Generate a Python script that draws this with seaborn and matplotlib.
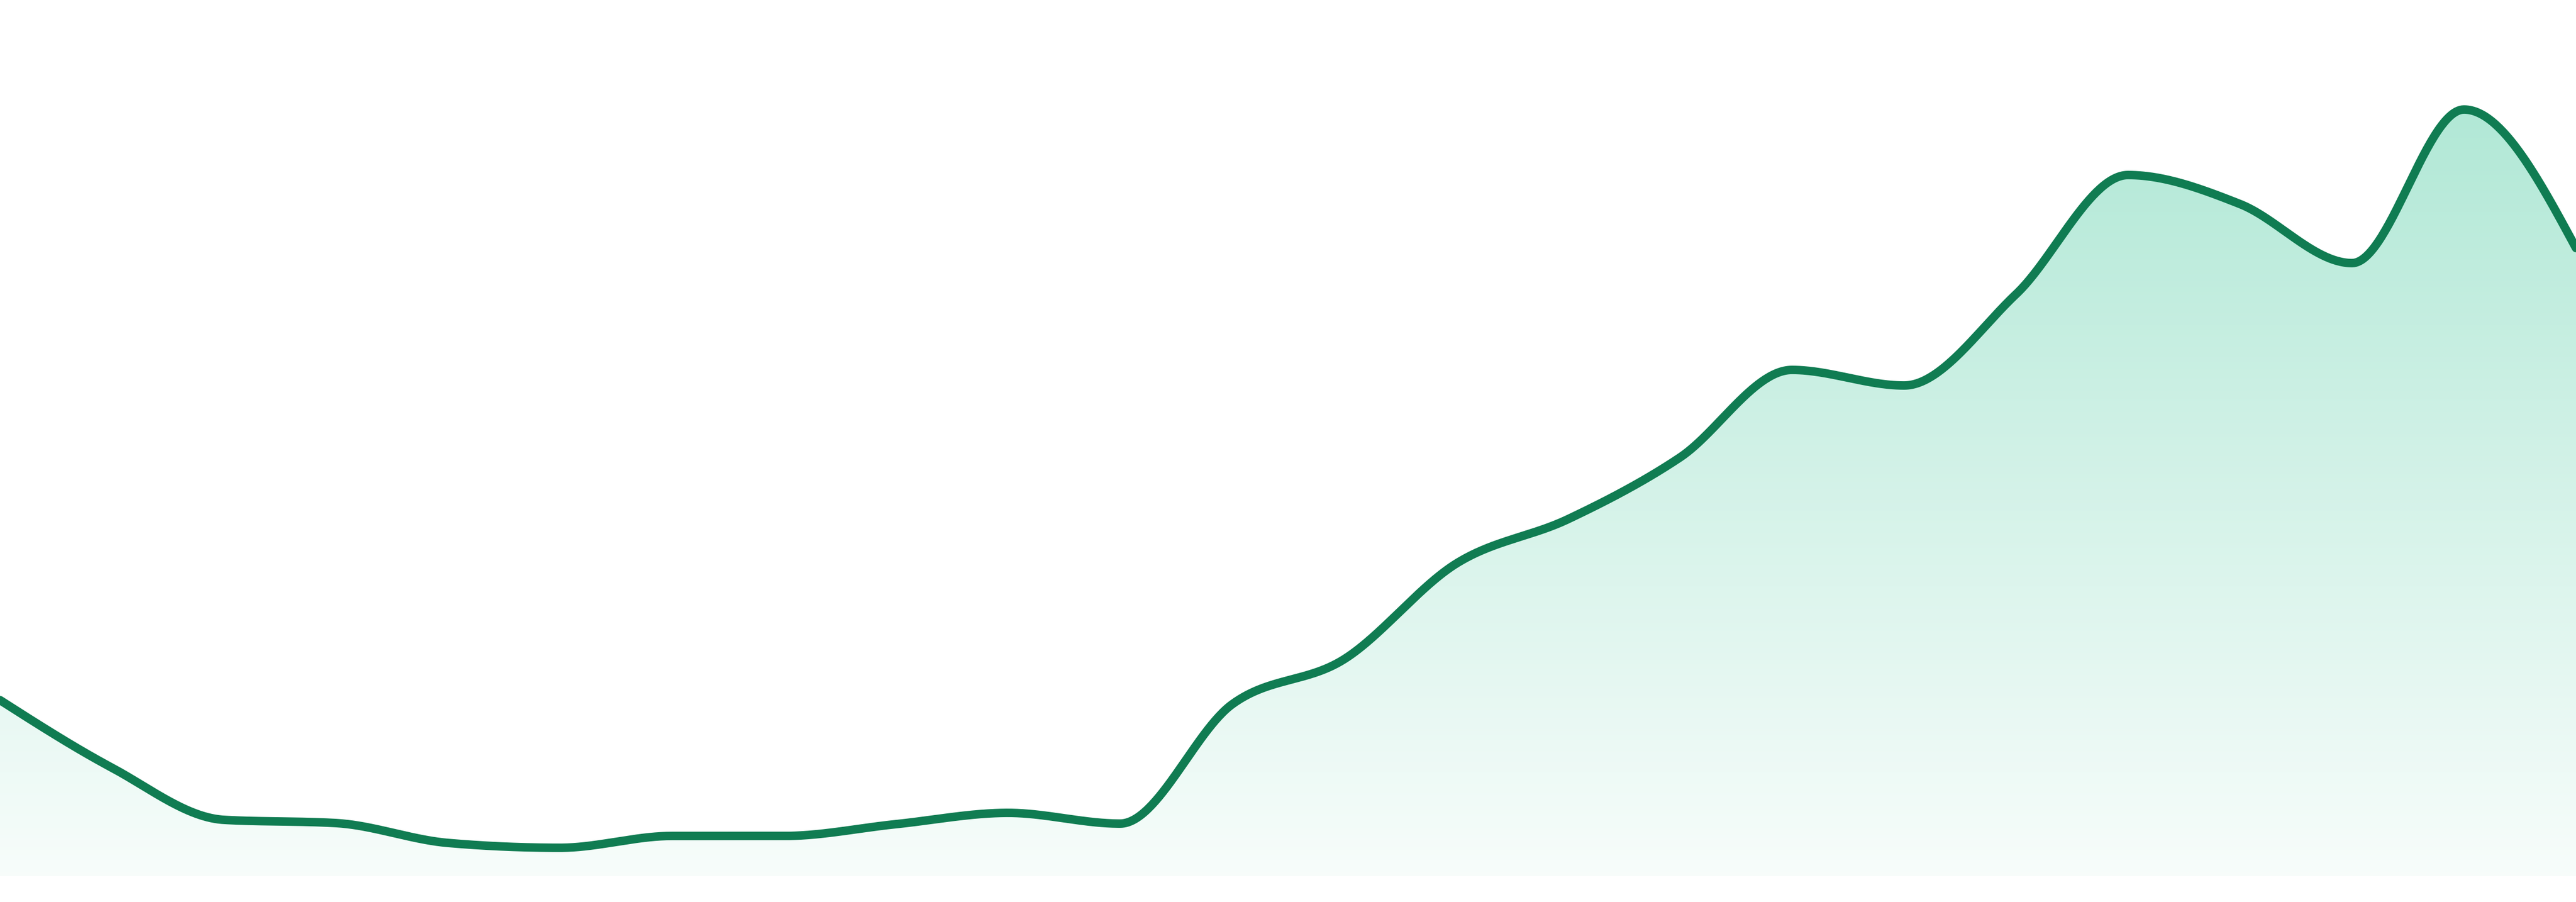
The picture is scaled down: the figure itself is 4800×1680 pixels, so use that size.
import numpy as np
import pandas as pd
import matplotlib
matplotlib.use("Agg")
import matplotlib.pyplot as plt
import seaborn as sns

# values (one point per step, 24 steps)
steps = list(range(24))
values = [32.8, 20.2, 10.5, 9.9, 6.2, 5.3, 7.5, 7.5, 9.7, 11.8, 9.8, 32.0,
          40.4, 58.2, 66.5, 78.0, 94.3, 91.4, 108.4, 130.6, 125.2, 114.2, 142.8, 117.0]

line_color = "#107c52"
fill_rgb = np.array([16, 185, 129]) / 255.0


def monotone_curve(x, y, n=60):
    # monotone cubic (same idea as d3.curveMonotoneX) for the smooth look
    x = np.asarray(x, float)
    y = np.asarray(y, float)
    h = np.diff(x)
    s = np.diff(y) / h
    t = np.zeros_like(y)
    for i in range(1, len(y) - 1):
        p = (s[i - 1] * h[i] + s[i] * h[i - 1]) / (h[i - 1] + h[i])
        t[i] = (np.sign(s[i - 1]) + np.sign(s[i])) * min(abs(s[i - 1]), abs(s[i]), 0.5 * abs(p))
    t[0] = (3 * s[0] - t[1]) / 2
    t[-1] = (3 * s[-1] - t[-2]) / 2
    xs, ys = [], []
    for i in range(len(h)):
        u = np.linspace(0, 1, n, endpoint=False)
        h00 = 2 * u**3 - 3 * u**2 + 1
        h10 = u**3 - 2 * u**2 + u
        h01 = -2 * u**3 + 3 * u**2
        h11 = u**3 - u**2
        xs.append(x[i] + u * h[i])
        ys.append(h00 * y[i] + h10 * h[i] * t[i] + h01 * y[i + 1] + h11 * h[i] * t[i + 1])
    xs.append([x[-1]])
    ys.append([y[-1]])
    return np.concatenate(xs), np.concatenate(ys)


sx, sy = monotone_curve(steps, values)
smooth = pd.DataFrame({"step": sx, "value": sy})

sns.set_style("white")
fig = plt.figure(figsize=(16, 5.6), dpi=300)
ax = fig.add_axes([0, 48 / 1680, 1, 1632 / 1680])
ymax = 163.2
ax.set_xlim(0, 23)
ax.set_ylim(0, ymax)

# gradient fill under the curve
poly = ax.fill_between(sx, 0, sy, color="none", lw=0)
v = np.linspace(ymax, 0, 600)
alpha = 0.032 + 0.00205 * v
rgb = 1 - alpha[:, None] * (1 - fill_rgb[None, :])
img = np.repeat(rgb[:, None, :], 2, axis=1)
grad = ax.imshow(img, extent=[0, 23, 0, ymax], aspect="auto", origin="upper", zorder=1)
grad.set_clip_path(poly.get_paths()[0], transform=ax.transData)

sns.lineplot(data=smooth, x="step", y="value", ax=ax, color=line_color,
             linewidth=3.8, sort=False, estimator=None, zorder=3)
ax.lines[-1].set_solid_capstyle("round")
ax.lines[-1].set_solid_joinstyle("round")

ax.axis("off")
fig.savefig("out.png", dpi=300, facecolor="white")
